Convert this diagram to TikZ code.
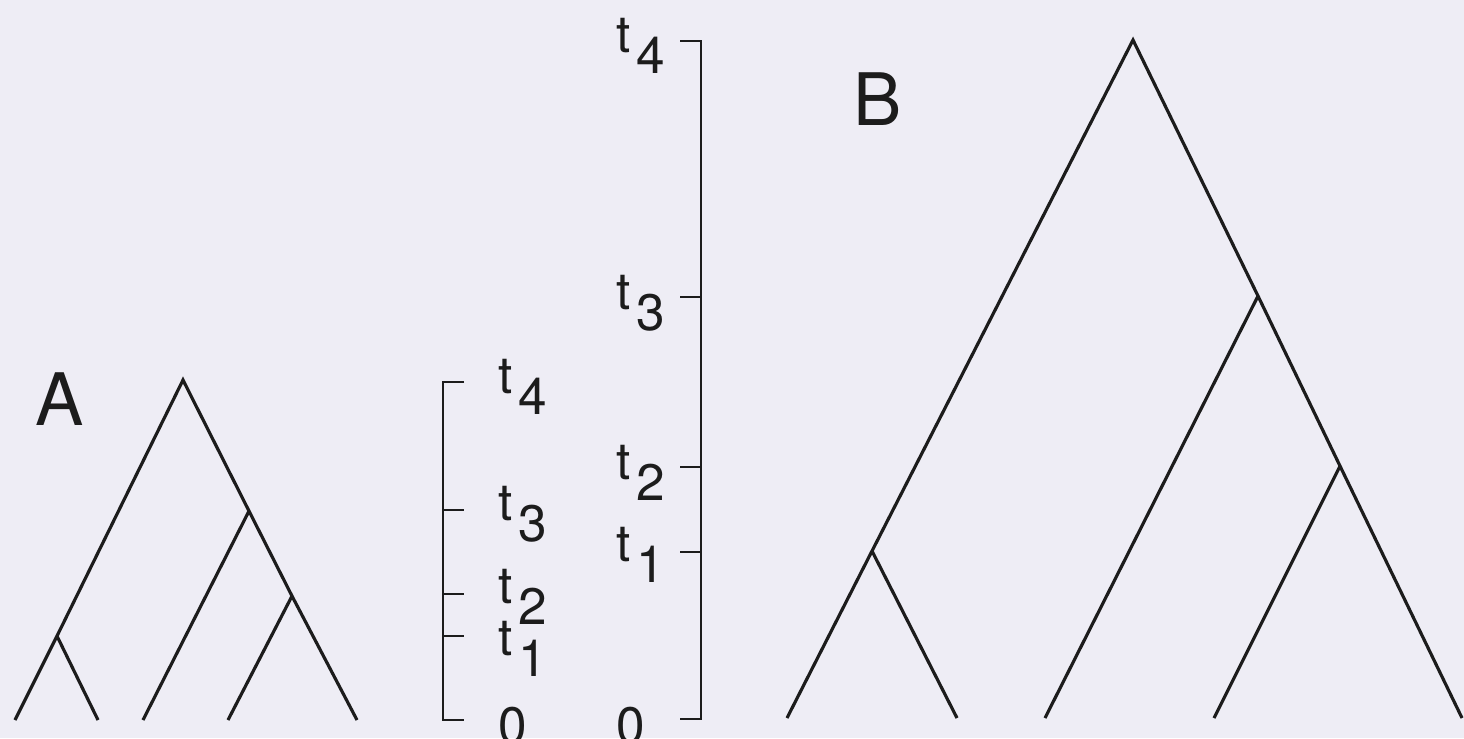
\documentclass[tikz,border=0pt]{standalone}
\usepackage{fontspec}
\setmainfont{TeX Gyre Heros}
\usepackage{xcolor}
\usepackage{tikz}
\usetikzlibrary{calc}
\definecolor{paper}{HTML}{EEEDF5}
\definecolor{ink}{HTML}{1C1C1C}

\newcommand{\tsub}[1]{t\kern0.1em\raisebox{-0.42em}{#1}}

\tikzset{
  branch/.style={draw=ink, line width=0.9pt, line join=miter},
  axis/.style={draw=ink, line width=0.45pt},
  timelab/.style={anchor=base west, inner sep=0pt, text=ink,
    font=\fontsize{14.6}{16}\selectfont},
  panel/.style={anchor=base west, inner sep=0pt, text=ink,
    font=\fontsize{20.6}{24}\selectfont}
}

\begin{document}
\begin{tikzpicture}
  \useasboundingbox (0,0) rectangle (14.64,7.38);
  \fill[paper] (0,0) rectangle (14.64,7.38);

  % tree A
  \coordinate (rootA) at (1.83,3.58);
  \coordinate (n3A) at (2.49,2.27);
  \coordinate (n2A) at (2.92,1.42);
  \coordinate (n1A) at (0.57,1.02);
  \coordinate (a1) at (0.15,0.18);
  \coordinate (a2) at (0.98,0.18);
  \coordinate (a3) at (1.43,0.18);
  \coordinate (a4) at (2.28,0.18);
  \coordinate (a5) at (3.57,0.18);
  \draw[branch] (a1) -- (n1A) -- (rootA) -- (n3A) -- (n2A) -- (a5);
  \draw[branch] (n1A) -- (a2);
  \draw[branch] (n3A) -- (a3);
  \draw[branch] (n2A) -- (a4);
  \node[panel] (labA) at (0.35,3.13) {A};

  % time scale of A
  \draw[axis] (4.64,3.56) -- (4.43,3.56) -- (4.43,0.18) -- (4.64,0.18);
  \foreach \y in {2.28,1.44,1.02}
    \draw[axis] (4.43,\y) -- (4.64,\y);
  \node[timelab] (tA4) at (4.98,3.45) {\tsub{4}};
  \node[timelab] (tA3) at (4.98,2.18) {\tsub{3}};
  \node[timelab] (tA2) at (4.98,1.35) {\tsub{2}};
  \node[timelab] (tA1) at (4.98,0.83) {\tsub{1}};
  \node[timelab] (tA0) at (4.98,-0.05) {0};

  % time scale of B
  \draw[axis] (6.80,6.97) -- (7.01,6.97) -- (7.01,0.19) -- (6.80,0.19);
  \foreach \y in {4.41,2.71,1.86}
    \draw[axis] (7.01,\y) -- (6.80,\y);
  \node[timelab] (tB4) at (6.16,6.86) {\tsub{4}};
  \node[timelab] (tB3) at (6.16,4.29) {\tsub{3}};
  \node[timelab] (tB2) at (6.16,2.59) {\tsub{2}};
  \node[timelab] (tB1) at (6.16,1.77) {\tsub{1}};
  \node[timelab] (tB0) at (6.16,-0.05) {0};

  % tree B
  \coordinate (rootB) at (11.33,6.98);
  \coordinate (n3B) at (12.58,4.42);
  \coordinate (n2B) at (13.40,2.72);
  \coordinate (n1B) at (8.72,1.87);
  \coordinate (b1) at (7.87,0.20);
  \coordinate (b2) at (9.57,0.20);
  \coordinate (b3) at (10.45,0.20);
  \coordinate (b4) at (12.14,0.20);
  \coordinate (b5) at (14.62,0.20);
  \draw[branch] (b1) -- (n1B) -- (rootB) -- (n3B) -- (n2B) -- (b5);
  \draw[branch] (n1B) -- (b2);
  \draw[branch] (n3B) -- (b3);
  \draw[branch] (n2B) -- (b4);
  \node[panel] (labB) at (8.53,6.13) {B};
\end{tikzpicture}
\end{document}
